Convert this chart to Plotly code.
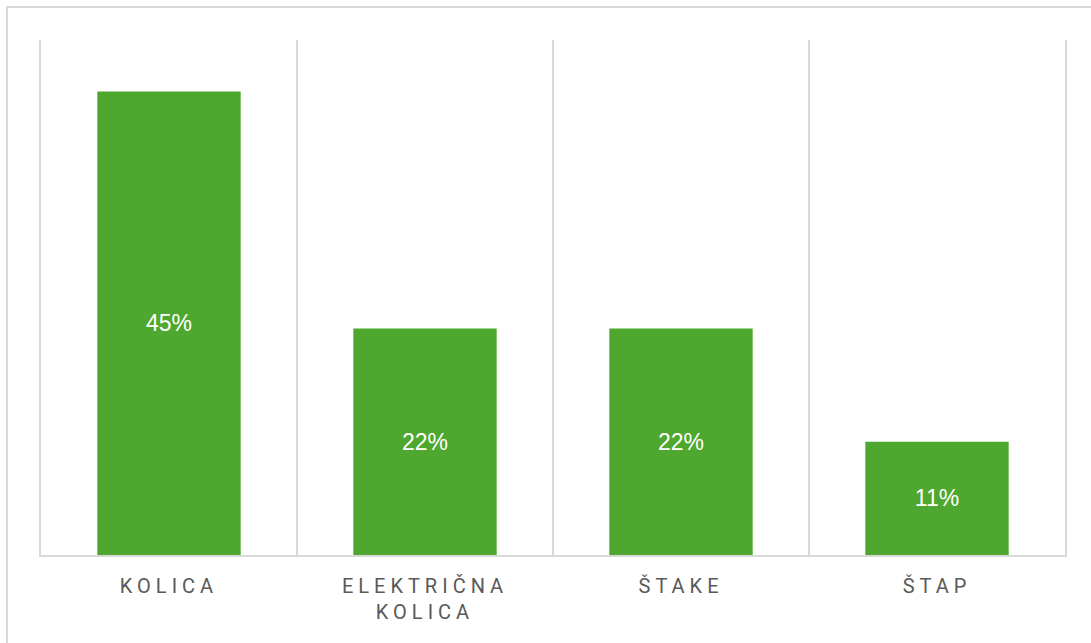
import plotly.graph_objects as go

categories = ["KOLICA", "ELEKTRIČNA<br>KOLICA", "ŠTAKE", "ŠTAP"]
values = [45, 22, 22, 11]
labels = ["45%", "22%", "22%", "11%"]

BAR = "#4EA72E"
GRID = "#D9D9D9"

fig = go.Figure(
    go.Bar(
        x=categories,
        y=values,
        text=labels,
        textposition="inside",
        insidetextanchor="middle",
        textangle=0,
        textfont=dict(family="Liberation Sans, Arial, sans-serif", size=23, color="white"),
        marker=dict(color=BAR, line=dict(width=0)),
        hoverinfo="skip",
    )
)

W, H = 1091, 643
L, R, T, B = 41, 26, 40, 88
pw, ph = W - L - R, H - T - B


def px_x(x):
    return (x - L) / pw


def px_y(y):
    return (H - B - y) / ph


fig.add_shape(
    type="rect", xref="paper", yref="paper",
    x0=px_x(7), x1=px_x(1100), y0=px_y(660), y1=px_y(7),
    line=dict(color=GRID, width=2), fillcolor="rgba(0,0,0,0)", layer="below",
)

fig.update_layout(
    width=W, height=H,
    margin=dict(l=L, r=R, t=T, b=B, pad=0),
    paper_bgcolor="white", plot_bgcolor="white",
    bargap=0.44,
    showlegend=False,
    uniformtext=dict(mode=False),
    xaxis=dict(
        type="category",
        tickson="boundaries",
        showgrid=True, gridcolor=GRID, gridwidth=2,
        showline=True, linecolor=GRID, linewidth=2,
        ticks="", ticklen=0,
        tickfont=dict(family="Roboto, sans-serif", size=20, color="#595959"),
        ticklabelstandoff=12,
        fixedrange=True,
    ),
    yaxis=dict(
        range=[0, 50],
        showgrid=False, zeroline=False,
        showline=True, mirror=True, linecolor=GRID, linewidth=2,
        showticklabels=False, ticks="",
        fixedrange=True,
    ),
)

post = """
document.body.style.margin = '0';
document.body.style.padding = '0';
var gd = document.getElementsByClassName('plotly-graph-div')[0];
function sp(){
  gd.querySelectorAll('.xtick text').forEach(function(t){
    t.style.letterSpacing = '5px';
  });
}
sp();
gd.on('plotly_afterplot', sp);
"""

fig.write_html("out.html", post_script=post, config={"displayModeBar": False})
